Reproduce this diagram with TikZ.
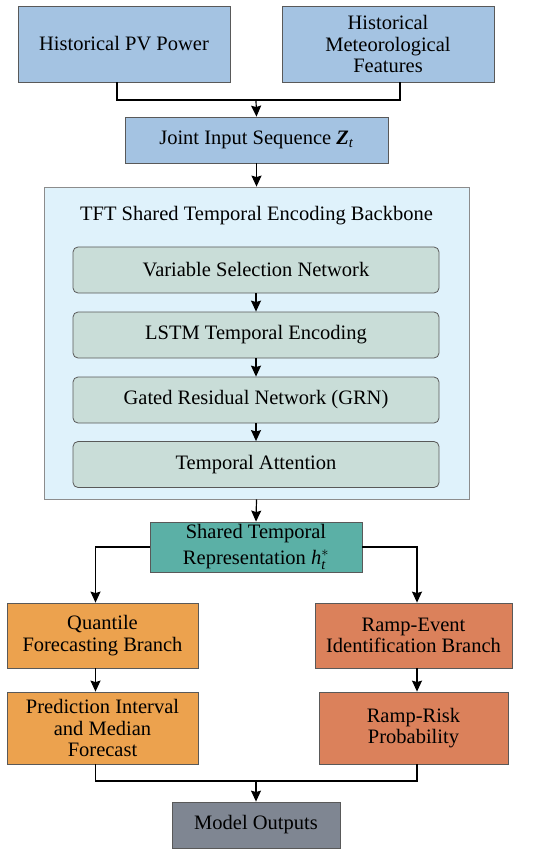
\documentclass[tikz,border=0pt]{standalone}
\usepackage{amsmath}
\usepackage{fontspec}
\setmainfont{Liberation Serif}
\usetikzlibrary{arrows.meta}
\definecolor{inblue}{HTML}{A4C3E2}
\definecolor{bbfill}{HTML}{DFF2FB}
\definecolor{layerfill}{HTML}{C9DDD8}
\definecolor{sharedteal}{HTML}{5BB0A6}
\definecolor{quantorange}{HTML}{ECA24E}
\definecolor{rampred}{HTML}{DB815B}
\definecolor{outgray}{HTML}{7F8692}
\begin{document}
\begin{tikzpicture}[x=1pt, y=-1pt,
    every node/.style={font=\fontsize{20.5}{21.7}\selectfont, align=center, inner sep=2pt},
    box/.style={draw=black!65, line width=0.8pt, minimum width=#1},
    layer/.style={box=366pt, fill=layerfill, rounded corners=5pt, minimum height=46pt},
    arr/.style={line width=1.2pt, -{Stealth[length=11pt, width=10pt, inset=1.5pt]}},
    link/.style={line width=1.2pt}]
    \useasboundingbox (0,0) rectangle (550,858);

    % inputs
    \node[box=212pt, fill=inblue, minimum height=76pt] (pv) at (124,44) {Historical PV Power};
    \node[box=212pt, fill=inblue, minimum height=76pt] (met) at (388,44) {Historical\\Meteorological\\Features};
    \node[box=263pt, fill=inblue, minimum height=46pt] (joint) at (256.5,140) {Joint Input Sequence \textbf{\textit{Z}}\textsubscript{\textit{t}}};
    \coordinate (merge) at (256,100);
    \draw[link] ([xshift=-7pt]pv.south) |- (merge) -| ([xshift=12pt]met.south);
    \draw[arr] (merge) -- (joint.north);

    % backbone
    \node[box=425pt, fill=bbfill, draw=black!45, minimum height=312pt] (backbone) at (256.5,343) {};
    \node (bbtitle) at (256.5,216) {TFT Shared Temporal Encoding Backbone};
    \node[layer] (vsn) at (256,270) {Variable Selection Network};
    \node[layer] (lstm) at (256,335) {LSTM Temporal Encoding};
    \node[layer] (grn) at (256,400) {Gated Residual Network (GRN)};
    \node[layer] (att) at (256,464.5) {Temporal Attention};
    \draw[arr] (joint.south) -- (backbone.north);
    \draw[arr] (vsn) -- (lstm);
    \draw[arr] (lstm) -- (grn);
    \draw[arr] (grn) -- (att);

    % shared representation and branches
    \node[box=212pt, fill=sharedteal, minimum height=50pt, inner sep=0pt] (shared) at (256,547) {Shared Temporal\\[5pt]Representation $\textit{h}^{*}_{\textit{t}}$};
    \draw[arr] (backbone.south) -- (shared.north);
    \node[box=191pt, fill=quantorange, minimum height=65pt] (quant) at (102.5,635.5) {Quantile\\Forecasting Branch};
    \node[box=197pt, fill=rampred, minimum height=65pt] (ramp) at (413.5,635.5) {Ramp-Event\\Identification Branch};
    \node[box=191pt, fill=quantorange, minimum height=72pt] (pred) at (102.5,728) {Prediction Interval\\and Median\\Forecast};
    \node[box=189pt, fill=rampred, minimum height=72pt] (risk) at (413.5,728) {Ramp-Risk\\Probability};
    \draw[arr] (shared.west) -| ([xshift=-7pt]quant.north);
    \draw[arr] (shared.east) -| ([xshift=3.5pt]ramp.north);
    \draw[arr] ([xshift=-7pt]quant.south) -- ([xshift=-7pt]pred.north);
    \draw[arr] ([xshift=3.5pt]ramp.south) -- ([xshift=3.5pt]risk.north);

    % outputs
    \node[box=168pt, fill=outgray, minimum height=46pt] (model) at (256,825) {Model Outputs};
    \coordinate (join) at (256,781);
    \draw[link] ([xshift=-7pt]pred.south) |- (join) -| ([xshift=3.5pt]risk.south);
    \draw[arr] (join) -- (model.north);
\end{tikzpicture}
\end{document}
